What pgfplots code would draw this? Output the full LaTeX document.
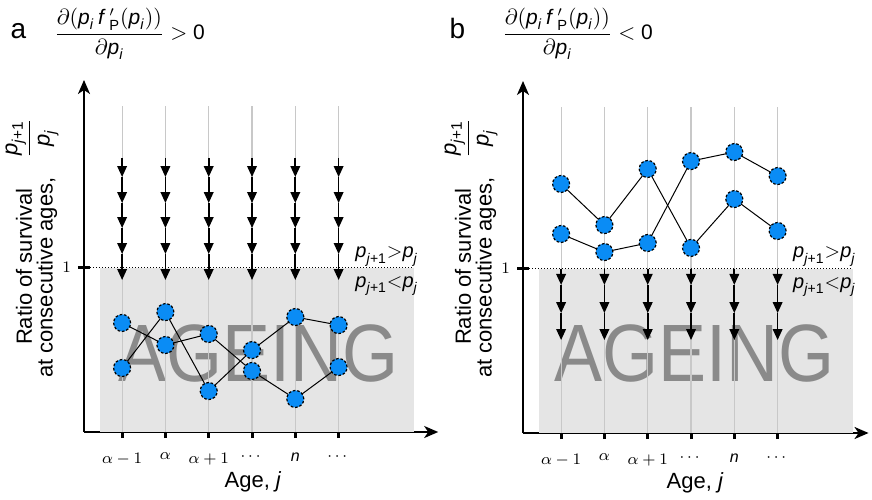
\documentclass[border=0pt]{standalone}
\usepackage{amsmath}
\usepackage{graphicx}
\usepackage{fontspec}
\setmainfont{Liberation Sans}
\usepackage{pgfplots}
\usepackage{pgfplotstable}
\pgfplotsset{compat=1.18}
\usetikzlibrary{arrows.meta}
\definecolor{dotblue}{RGB}{10,140,245}
\definecolor{bggray}{RGB}{229,229,229}
\definecolor{vgray}{RGB}{200,200,200}
\definecolor{agegray}{RGB}{138,138,138}
\newcommand{\ip}{\text{\textit{p}}}
\newcommand{\sub}[1]{\text{\textit{#1}}}
\newcommand{\ratio}{$\dfrac{\ip_{\sub{j}\text{+1}}}{\ip_{\sub{j}}}$}
\newcommand{\formula}{$\dfrac{\partial(\ip_{\sub{i}}\,\text{\textit{f}}\,'_{\text{P}}(\ip_{\sub{i}}))}{\partial\ip_{\sub{i}}}$}
\newcommand{\ageing}{\scalebox{1}[1.13]{AGEING}}

\pgfplotstableread{
y v
1.666 -0.116
1.550 -0.158
1.392 -0.152
1.240 -0.158
1.082 -0.158
}\arrA
\pgfplotstableread{
y v
1.000 -0.100
0.900 -0.171
0.729 -0.164
}\arrB

\pgfplotsset{panel/.style={
  x=21.65pt, y=82.25pt,
  xmin=0.12, ymin=0, ymax=2.14,
  axis lines=left,
  axis line style={line width=1.1pt, -{Stealth[length=7pt,width=6pt,inset=2pt]}},
  xtick={1,...,6}, ytick={1},
  xticklabels={$\alpha-1$,$\alpha$,$\alpha+1$,$\cdots$,\textit{n},$\cdots$},
  yticklabels={$1$},
  tick align=center, major tick length=6pt,
  every tick/.style={black, line width=1.5pt},
  tick label style={font=\fontsize{8}{9}\selectfont},
  xticklabel style={yshift=-4pt},
  clip=false,
  anchor=south west,
},
dots/.style={only marks, mark=*, mark size=4.25pt,
  mark options={fill=dotblue, draw=black, line width=0.6pt, dash pattern=on 1.3pt off 0.9pt}},
conn/.style={black, line width=0.5pt, no marks},
arr/.style={black, line width=0.85pt, -{Triangle[length=5.5pt,width=4.8pt]}}
}

\begin{document}
\begin{tikzpicture}
\useasboundingbox (0,0) rectangle (436pt,-249.5pt);

% ---------------- panel a ----------------
\begin{axis}[panel, at={(42pt,-216pt)}, xmax=8.3]
\addplot[fill=bggray, draw=none] coordinates {(0.49,1) (7.74,1)} \closedcycle;
\node[font=\fontsize{36}{36}\selectfont, text=agegray, anchor=base, inner sep=0pt] at (axis cs:4.16,0.31) {\ageing};
\addplot[ycomb, vgray, line width=0.6pt, no marks] coordinates {(1,1.98)(2,1.98)(3,1.98)(4,1.98)(5,1.98)(6,1.98)};
\addplot[densely dotted, line width=0.5pt, no marks] coordinates {(0.12,1)(7.74,1)};
\pgfplotsinvokeforeach{1,...,6}{
  \addplot[arr, quiver={u=0, v=\thisrow{v}}] table[x expr=#1, y=y] {\arrA};
}
\addplot[conn] coordinates {(1,0.663)(2,0.529)(3,0.596)(4,0.371)(5,0.201)(6,0.395)};
\addplot[conn] coordinates {(1,0.389)(2,0.729)(3,0.249)(4,0.498)(5,0.699)(6,0.650)};
\addplot[dots] coordinates {(1,0.663)(2,0.529)(3,0.596)(4,0.371)(5,0.201)(6,0.395)};
\addplot[dots] coordinates {(1,0.389)(2,0.729)(3,0.249)(4,0.498)(5,0.699)(6,0.650)};
\node[anchor=base west, font=\fontsize{10}{10}\selectfont, inner sep=0pt] at (axis cs:6.38,1.058) {$\ip_{\sub{j}\text{+1}}{>}\ip_{\sub{j}}$};
\node[anchor=base west, font=\fontsize{10}{10}\selectfont, inner sep=0pt] at (axis cs:6.38,0.881) {$\ip_{\sub{j}\text{+1}}{<}\ip_{\sub{j}}$};
\end{axis}

% ---------------- panel b ----------------
\begin{axis}[panel, at={(261.5pt,-216.5pt)}, xmax=8.1]
\addplot[fill=bggray, draw=none] coordinates {(0.49,1) (7.73,1)} \closedcycle;
\node[font=\fontsize{36}{36}\selectfont, text=agegray, anchor=base, inner sep=0pt] at (axis cs:4.09,0.316) {\ageing};
\addplot[ycomb, vgray, line width=0.6pt, no marks] coordinates {(1,1.98)(2,1.98)(3,1.98)(4,1.98)(5,1.98)(6,1.98)};
\addplot[densely dotted, line width=0.5pt, no marks] coordinates {(0.125,1)(7.73,1)};
\pgfplotsinvokeforeach{1,...,6}{
  \addplot[arr, quiver={u=0, v=\thisrow{v}}] table[x expr=#1, y=y] {\arrB};
}
\addplot[conn] coordinates {(1,1.514)(2,1.264)(3,1.605)(4,1.125)(5,1.422)(6,1.228)};
\addplot[conn] coordinates {(1,1.210)(2,1.100)(3,1.155)(4,1.653)(5,1.708)(6,1.562)};
\addplot[dots] coordinates {(1,1.514)(2,1.264)(3,1.605)(4,1.125)(5,1.422)(6,1.228)};
\addplot[dots] coordinates {(1,1.210)(2,1.100)(3,1.155)(4,1.653)(5,1.708)(6,1.562)};
\node[anchor=base west, font=\fontsize{10}{10}\selectfont, inner sep=0pt] at (axis cs:6.35,1.064) {$\ip_{\sub{j}\text{+1}}{>}\ip_{\sub{j}}$};
\node[anchor=base west, font=\fontsize{10}{10}\selectfont, inner sep=0pt] at (axis cs:6.35,0.881) {$\ip_{\sub{j}\text{+1}}{<}\ip_{\sub{j}}$};
\end{axis}

% ---------------- outer labels (pixel coordinates) ----------------
\begin{scope}[x=0.5pt, y=-0.5pt]
\node[anchor=base, font=\fontsize{14}{14}\selectfont, inner sep=0pt] at (18.5,38) {a};
\node[anchor=base, font=\fontsize{14}{14}\selectfont, inner sep=0pt] at (457.5,38) {b};
\node[anchor=west, font=\fontsize{10.5}{11}\selectfont, inner sep=0pt] at (54,34) {\formula\ $>$ 0};
\node[anchor=west, font=\fontsize{10.5}{11}\selectfont, inner sep=0pt] at (502,34) {\formula\ $<$ 0};
\foreach \dx in {0,439}{
  \node[rotate=90, anchor=east, font=\fontsize{11}{12}\selectfont, inner sep=0pt] at (24+\dx,188) {Ratio of survival};
  \node[rotate=90, anchor=east, font=\fontsize{11}{12}\selectfont, inner sep=0pt] at (47+\dx,177) {at consecutive ages,};
  \node[rotate=90, font=\fontsize{11}{12}\selectfont, inner sep=0pt] at (32+\dx,138) {\ratio};
}
\node[font=\fontsize{11}{12}\selectfont, inner sep=0pt] at (253,482) {Age, \textit{j}};
\node[font=\fontsize{11}{12}\selectfont, inner sep=0pt] at (695,483) {Age, \textit{j}};
\end{scope}
\end{tikzpicture}
\end{document}
